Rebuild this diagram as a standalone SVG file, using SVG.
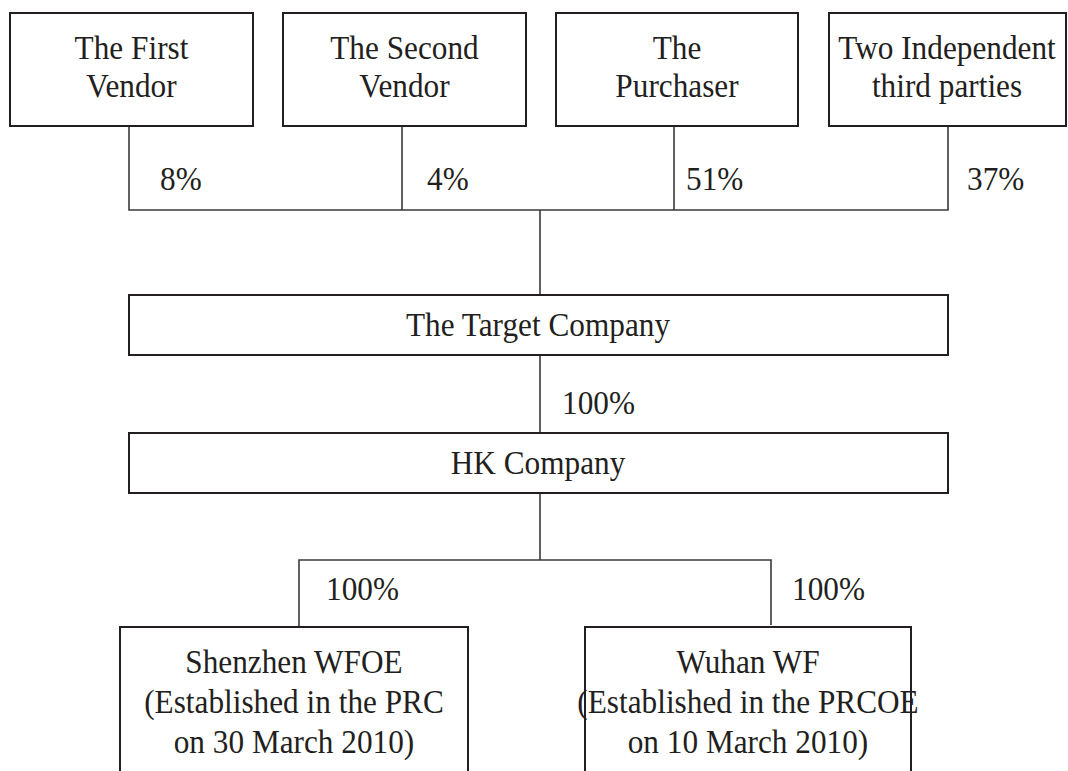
<svg xmlns="http://www.w3.org/2000/svg" width="1068" height="771" viewBox="0 0 1068 771">
<style>
.box{fill:#fff;stroke:#231f20;stroke-width:2}
.t{font-family:"Liberation Serif","Times New Roman",serif;font-size:34px;fill:#231f20;text-anchor:middle}
.p{font-family:"Liberation Serif","Times New Roman",serif;font-size:34px;fill:#231f20}
.c{fill:none;stroke:#3a3a3a;stroke-width:1.6}
</style>
<rect width="1068" height="771" fill="#fff"/>
<g id="connectors">
<path class="c" d="M129,126V210H948V126M402,126V210M674,126V210M540,210V295M540,355V433M540,493V560M299,627V560H771V625"/>
</g>
<g id="labels">
<text class="p" transform="translate(160,190) scale(0.92,1)">8%</text>
<text class="p" transform="translate(427,190) scale(0.92,1)">4%</text>
<text class="p" transform="translate(686,190) scale(0.92,1)">51%</text>
<text class="p" transform="translate(967,190) scale(0.92,1)">37%</text>
<text class="p" transform="translate(562,414) scale(0.92,1)">100%</text>
<text class="p" transform="translate(326,600) scale(0.92,1)">100%</text>
<text class="p" transform="translate(792,600) scale(0.92,1)">100%</text>
</g>
<g id="first-vendor">
<rect class="box" x="10" y="13" width="243" height="113"/>
<text class="t" transform="translate(131.5,59) scale(0.92,1)">The First</text>
<text class="t" transform="translate(131.5,97) scale(0.92,1)">Vendor</text>
</g>
<g id="second-vendor">
<rect class="box" x="283" y="13" width="243" height="113"/>
<text class="t" transform="translate(404.5,59) scale(0.92,1)">The Second</text>
<text class="t" transform="translate(404.5,97) scale(0.92,1)">Vendor</text>
</g>
<g id="purchaser">
<rect class="box" x="556" y="13" width="242" height="113"/>
<text class="t" transform="translate(677,59) scale(0.92,1)">The</text>
<text class="t" transform="translate(677,97) scale(0.92,1)">Purchaser</text>
</g>
<g id="third-parties">
<rect class="box" x="829" y="13" width="237" height="113"/>
<text class="t" transform="translate(947,59) scale(0.92,1)">Two Independent</text>
<text class="t" transform="translate(947,97) scale(0.92,1)">third parties</text>
</g>
<g id="target-company">
<rect class="box" x="129" y="295" width="819" height="60"/>
<text class="t" transform="translate(538,336) scale(0.92,1)">The Target Company</text>
</g>
<g id="hk-company">
<rect class="box" x="129" y="433" width="819" height="60"/>
<text class="t" transform="translate(538,474) scale(0.92,1)">HK Company</text>
</g>
<g id="shenzhen-wfoe">
<rect class="box" x="120" y="627" width="348" height="160"/>
<text class="t" transform="translate(294,673) scale(0.92,1)">Shenzhen WFOE</text>
<text class="t" transform="translate(294,713) scale(0.92,1)">(Established in the PRC</text>
<text class="t" transform="translate(294,753) scale(0.92,1)">on 30 March 2010)</text>
</g>
<g id="wuhan-wf">
<rect class="box" x="585" y="627" width="326" height="160"/>
<text class="t" transform="translate(748,673) scale(0.92,1)">Wuhan WF</text>
<text class="t" transform="translate(748,713) scale(0.92,1)">(Established in the PRCOE</text>
<text class="t" transform="translate(748,753) scale(0.92,1)">on 10 March 2010)</text>
</g>
</svg>
